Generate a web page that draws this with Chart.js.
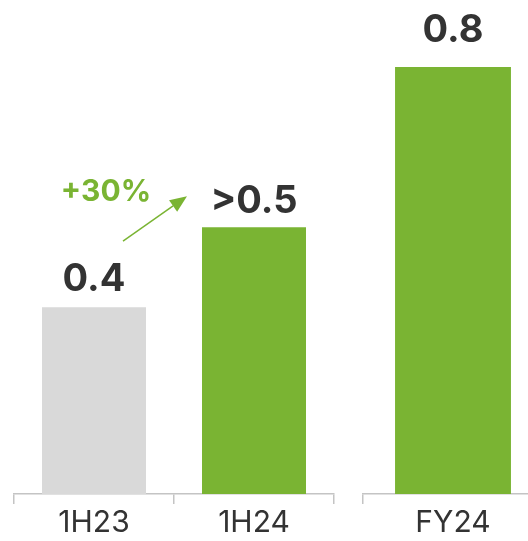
<!DOCTYPE html>
<html>
<head>
<meta charset="utf-8">
<script src="https://cdn.jsdelivr.net/npm/chart.js@4"></script>
<style>
  html, body { margin: 0; padding: 0; background: #fff; overflow: hidden; width: 528px; height: 541px; }
  .box { position: absolute; top: 0; height: 541px; }
  #boxA { left: 0; width: 344px; }
  #boxB { left: 353px; width: 190px; }
</style>
</head>
<body>
<div class="box" id="boxA"><canvas id="chartA"></canvas></div>
<div class="box" id="boxB"><canvas id="chartB"></canvas></div>
<script>
// datos
const categories = ['1H23', '1H24', 'FY24'];
const values = [0.35, 0.5, 0.8];
const valueLabels = ['0.4', '>0.5', '0.8'];
const growthLabel = '+30%';

const GREEN = '#7AB433';
const GREY = '#D9D9D9';
const barColors = [GREY, GREEN, GREEN];

// etiquetas encima de cada barra
const barLabels = {
  id: 'barLabels',
  afterDatasetsDraw(chart, args, opts) {
    const ctx = chart.ctx;
    const meta = chart.getDatasetMeta(0);
    ctx.save();
    ctx.font = 'bold 38px Inter';
    ctx.fillStyle = '#333333';
    ctx.textAlign = 'center';
    ctx.textBaseline = 'alphabetic';
    meta.data.forEach(function(bar, i) {
      ctx.fillText(opts.labels[i], bar.x, bar.y - opts.gaps[i]);
    });

    // flecha de crecimiento
    if (opts.arrow) {
      const b0 = meta.data[0], b1 = meta.data[1];
      const x1 = b0.x + 29, y1 = b0.y - 66;
      const x2 = b1.x - 67, y2 = b1.y - 31;
      const ang = Math.atan2(y2 - y1, x2 - x1);
      const head = 17, w = 7;
      ctx.strokeStyle = GREEN;
      ctx.fillStyle = GREEN;
      ctx.lineWidth = 1.5;
      ctx.beginPath();
      ctx.moveTo(x1, y1);
      ctx.lineTo(x2 - head * Math.cos(ang), y2 - head * Math.sin(ang));
      ctx.stroke();
      ctx.beginPath();
      ctx.moveTo(x2, y2);
      ctx.lineTo(x2 - head * Math.cos(ang) + w * Math.sin(ang), y2 - head * Math.sin(ang) - w * Math.cos(ang));
      ctx.lineTo(x2 - head * Math.cos(ang) - w * Math.sin(ang), y2 - head * Math.sin(ang) + w * Math.cos(ang));
      ctx.closePath();
      ctx.fill();

      ctx.font = 'bold 30px Inter';
      ctx.fillText(growthLabel, b0.x + 12, b0.y - 106);
    }
    ctx.restore();
  }
};

function opciones(padLeft, padRight, labels, gaps, arrow) {
  return {
    responsive: true,
    maintainAspectRatio: false,
    animation: false,
    layout: { padding: { top: 67, left: padLeft, right: padRight, bottom: 0 } },
    plugins: {
      legend: { display: false },
      tooltip: { enabled: false },
      barLabels: { labels: labels, gaps: gaps, arrow: arrow }
    },
    scales: {
      x: {
        grid: { display: true, drawOnChartArea: false, drawTicks: true, tickLength: 10, color: '#C4C4C4', lineWidth: 1.5, offset: true },
        border: { display: true, color: '#C4C4C4', width: 1.5 },
        ticks: { color: '#333333', font: { family: 'Inter', size: 30, lineHeight: 0.9 }, padding: 5 }
      },
      y: { display: false, min: 0, max: 0.8 }
    }
  };
}

new Chart(document.getElementById('chartA'), {
  type: 'bar',
  data: {
    labels: categories.slice(0, 2),
    datasets: [{
      data: values.slice(0, 2),
      backgroundColor: barColors.slice(0, 2),
      barPercentage: 0.65,
      categoryPercentage: 1
    }]
  },
  options: opciones(14, 10, valueLabels.slice(0, 2), [16.5, 14], true),
  plugins: [barLabels]
});

new Chart(document.getElementById('chartB'), {
  type: 'bar',
  data: {
    labels: categories.slice(2),
    datasets: [{
      data: values.slice(2),
      backgroundColor: barColors.slice(2),
      barPercentage: 0.644,
      categoryPercentage: 1
    }]
  },
  options: opciones(10, 0, valueLabels.slice(2), [25], false),
  plugins: [barLabels]
});
</script>
</body>
</html>
